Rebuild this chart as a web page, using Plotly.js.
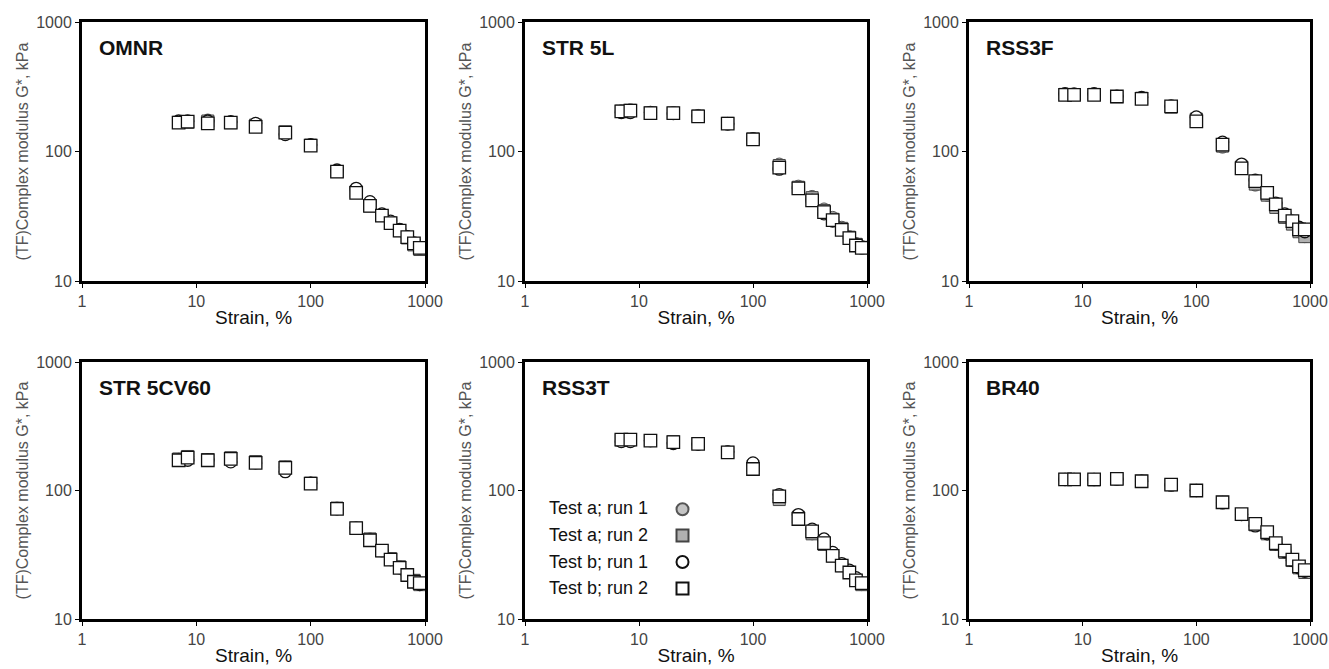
<!DOCTYPE html>
<html>
<head>
<meta charset="utf-8">
<script src="https://cdn.plot.ly/plotly-3.0.1.min.js"></script>
<style>html,body{margin:0;padding:0;background:#fff;}#chart{width:1329px;height:669px;}</style>
</head>
<body>
<div id="chart"></div>
<script>
// Strain (%) values of the strain sweep
const strain = [7, 8.4, 12.6, 20, 33, 60, 100, 170, 250, 330, 420, 500, 600, 700, 800, 900];

const xTickVals = [1, 10, 100, 1000];
const xTickText = ['1', '10', '100', '1000'];
const yTickVals = [10, 100, 1000];
const yTickText = ['10', '100', '1000'];

const panelNames = ['OMNR', 'STR 5L', 'RSS3F', 'STR 5CV60', 'RSS3T', 'BR40'];
const seriesNames = ['Test a; run 1', 'Test a; run 2', 'Test b; run 1', 'Test b; run 2'];

// OMNR
const omnr_a1 = [170, 170, 175, 168, 163, 138, 112, 71, 50, 39, 32.5, 28.5, 25, 22, 19.8, 18.2];
const omnr_a2 = [168, 168, 172, 167, 160, 142, 112, 70, 49, 38, 32, 28, 24.5, 21.5, 19, 17.5];
const omnr_b1 = [172, 172, 172, 170, 165, 135, 113, 72, 52, 41, 33, 29, 25, 22, 19.5, 18];
const omnr_b2 = [167, 170, 165, 167, 155, 140, 111, 70, 48, 38, 32, 28, 24.5, 21.8, 19.5, 18];
// STR 5L
const str5l_a1 = [206, 210, 200, 200, 190, 165, 126, 80, 54, 45, 36, 31, 26, 22, 19.5, 18.5];
const str5l_a2 = [205, 208, 199, 198, 188, 165, 125, 78, 53, 44, 35, 30, 25.5, 21.8, 19.2, 18.2];
const str5l_b1 = [200, 200, 200, 196, 187, 163, 125, 73, 52, 42, 33, 29, 25, 21.5, 19, 18];
const str5l_b2 = [204, 207, 198, 198, 187, 164, 124, 75, 52, 42, 34, 29.5, 24.8, 21.4, 18.8, 18];
// RSS3F
const rss3f_a1 = [278, 276, 278, 266, 260, 222, 182, 108, 78, 55, 46, 37, 31, 28, 24, 22];
const rss3f_a2 = [276, 275, 276, 265, 258, 220, 178, 110, 76, 56, 46, 37, 31, 27.5, 24, 22];
const rss3f_b1 = [280, 278, 280, 268, 262, 225, 185, 118, 80, 60, 48, 40, 33, 29, 26, 24];
const rss3f_b2 = [274, 274, 274, 266, 255, 223, 171, 113, 74, 59, 48, 39, 32, 29, 25, 25];
// STR 5CV60
const str5cv60_a1 = [175, 183, 174, 178, 167, 152, 114, 73, 51, 42, 34, 29.5, 25.5, 22, 20, 18.5];
const str5cv60_a2 = [176, 184, 174, 180, 168, 153, 114, 73, 51, 42, 34, 29.5, 25.5, 22, 20, 18.5];
const str5cv60_b1 = [172, 172, 172, 167, 164, 140, 114, 72, 51, 41, 34, 29, 25, 22, 19.5, 18.5];
const str5cv60_b2 = [172, 180, 172, 176, 164, 150, 113, 72, 51, 41, 34, 29, 25, 22, 19.5, 19];
// RSS3T
const rss3t_a1 = [245, 245, 244, 236, 230, 200, 160, 87, 64, 46, 40, 32, 26.5, 23.5, 20.5, 18.5];
const rss3t_a2 = [247, 248, 245, 240, 232, 198, 155, 85, 62, 46, 38, 31, 26, 23, 20, 18.5];
const rss3t_b1 = [240, 240, 244, 232, 230, 200, 164, 93, 65, 50, 42, 33, 27, 24, 21, 19];
const rss3t_b2 = [249, 249, 244, 238, 231, 198, 147, 90, 60, 48, 39, 31, 26, 23, 20, 19];
// BR40
const br40_a1 = [121, 122, 121, 123, 118, 111, 100, 81, 65, 54, 46, 38, 33, 28.5, 25, 23];
const br40_a2 = [122, 122, 121, 123, 118, 111, 100, 81, 65, 54, 46, 38, 33, 28.5, 25, 23];
const br40_b1 = [122, 122, 122, 122, 118, 110, 100, 80, 65, 53, 46, 38.5, 33.5, 28.5, 25, 23.5];
const br40_b2 = [122, 122, 122, 123, 118, 111, 100, 81, 65.5, 55, 47.5, 39, 34, 29, 25.7, 24];

const panelSeries = [
  [omnr_a1, omnr_a2, omnr_b1, omnr_b2],
  [str5l_a1, str5l_a2, str5l_b1, str5l_b2],
  [rss3f_a1, rss3f_a2, rss3f_b1, rss3f_b2],
  [str5cv60_a1, str5cv60_a2, str5cv60_b1, str5cv60_b2],
  [rss3t_a1, rss3t_a2, rss3t_b1, rss3t_b2],
  [br40_a1, br40_a2, br40_b1, br40_b2]
];

const markerStyles = [
  {symbol: 'circle', size: 12, color: '#c4c4c4', line: {color: '#555', width: 1}},
  {symbol: 'square', size: 12, color: '#b0b0b0', line: {color: '#444', width: 1}},
  {symbol: 'circle', size: 12, color: '#ffffff', line: {color: '#111', width: 1.3}},
  {symbol: 'square', size: 12.5, color: '#ffffff', line: {color: '#111', width: 1.3}}
];

const W = 1329, H = 669;
const colPx = [[82, 425], [525, 867], [969, 1310]];
const rowPx = [[22, 281], [362, 619]];

const traces = [];
const layout = {
  width: W, height: H,
  margin: {l: 0, r: 0, t: 0, b: 0},
  paper_bgcolor: '#fff', plot_bgcolor: '#fff',
  font: {family: 'Liberation Sans, Arial, sans-serif', color: '#333'},
  showlegend: true,
  legend: {
    x: 0.4985, y: 1 - 491 / H, xanchor: 'left', yanchor: 'top',
    bgcolor: 'rgba(0,0,0,0)', font: {size: 18}, tracegroupgap: 0,
    itemsizing: 'constant'
  },
  annotations: []
};

panelNames.forEach((pname, p) => {
  const col = p % 3, row = Math.floor(p / 3);
  const sfx = p === 0 ? '' : String(p + 1);
  const xd = [colPx[col][0] / W, colPx[col][1] / W];
  const yd = [1 - rowPx[row][1] / H, 1 - rowPx[row][0] / H];
  panelSeries[p].forEach((vals, s) => {
    traces.push({
      type: 'scatter', mode: 'markers',
      x: strain, y: vals,
      xaxis: 'x' + sfx, yaxis: 'y' + sfx,
      name: p === 4 ? ' ' : seriesNames[s],
      showlegend: p === 4,
      cliponaxis: false,
      marker: markerStyles[s],
      hoverinfo: 'x+y'
    });
  });
  const common = {
    type: 'log', showgrid: false, zeroline: false,
    showline: true, linecolor: '#000', linewidth: 3, mirror: true,
    ticks: 'outside', ticklen: 4, tickwidth: 1, tickcolor: '#000',
    tickfont: {size: 16, color: '#444'}, ticklabeloverflow: 'allow'
  };
  layout['xaxis' + sfx] = Object.assign({}, common, {
    domain: xd, anchor: 'y' + sfx, range: [0, 3],
    tickvals: xTickVals, ticktext: xTickText,
    title: {text: 'Strain, %', font: {size: 19, color: '#111'}, standoff: 2}
  });
  layout['yaxis' + sfx] = Object.assign({}, common, {
    domain: yd, anchor: 'x' + sfx, range: [1, 3],
    tickvals: yTickVals, ticktext: yTickText,
    title: {text: '(TF)Complex modulus G*, kPa', font: {size: 16, color: '#555'}, standoff: 4}
  });
  layout.annotations.push({
    xref: 'x' + sfx + ' domain', yref: 'y' + sfx + ' domain',
    x: 0.045, y: 0.9, xanchor: 'left', yanchor: 'middle',
    text: '<b>' + pname + '</b>', showarrow: false,
    font: {size: 21, color: '#111'}
  });
});

// legend text labels (left of the legend symbols, as in the original)
const legendRowsPx = [508, 535, 562, 588];
seriesNames.forEach((n, i) => {
  layout.annotations.push({
    xref: 'paper', yref: 'paper', x: 547 / W, y: 1 - legendRowsPx[i] / H,
    xanchor: 'left', yanchor: 'middle', text: n, showarrow: false,
    font: {size: 18, color: '#111'}
  });
});

Plotly.newPlot('chart', traces, layout, {displayModeBar: false, staticPlot: true});
</script>
</body>
</html>
